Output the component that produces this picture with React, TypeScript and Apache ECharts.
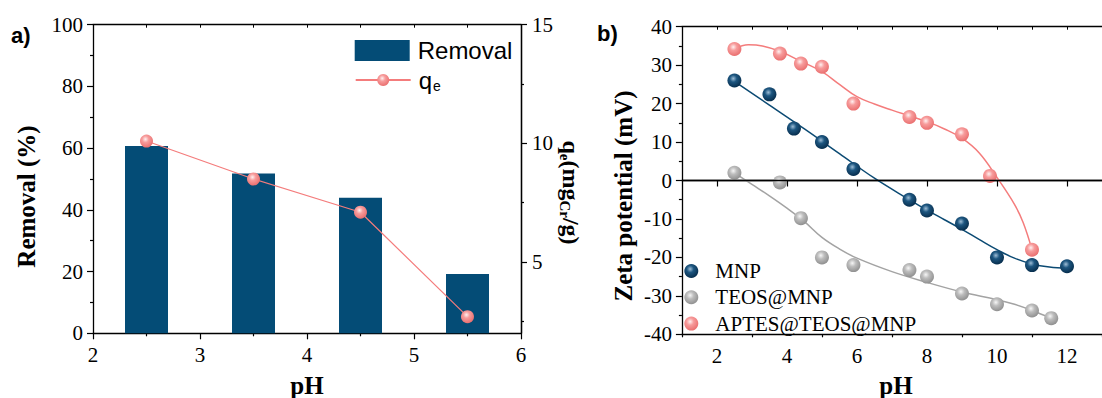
import React, { useEffect, useRef } from "react";
import * as echarts from "echarts";

// ---- Panel a) data ----
const barPH = [2.5, 3.5, 4.5, 5.5];
const removalPct = [60.7, 51.8, 43.9, 19.2];
const qeValues = [10.1, 8.5, 7.1, 2.7];

// ---- Panel b) data (pH, zeta potential) ----
const mnpPH = [2.5, 3.5, 4.2, 5, 5.9, 7.5, 8, 9, 10, 11, 12];
const mnpZeta = [26, 22.4, 13.5, 10, 3, -5, -7.8, -11.2, -20, -22, -22.3];
const teosPH = [2.5, 3.8, 4.4, 5, 5.9, 7.5, 8, 9, 10, 11, 11.55];
const teosZeta = [2, -0.5, -9.8, -20, -22, -23.3, -25, -29.4, -32.2, -33.8, -35.8];
const aptesPH = [2.5, 3.8, 4.4, 5, 5.9, 7.5, 8, 9, 9.8, 11];
const aptesZeta = [34.2, 33, 30.4, 29.6, 20, 16.5, 15, 12, 1.2, -18];

// fitted curves
const mnpFitPH = [2.5, 3.5, 4.5, 5.5, 6.5, 7.5, 8, 8.5, 9, 9.5, 10, 10.5, 11, 11.5, 12];
const mnpFitZeta = [25.8, 19.6, 13.4, 7.0, 0.6, -5.0, -7.7, -10.2, -12.7, -15.4, -18.0, -20.2, -21.7, -22.5, -22.8];
const teosFitPH = [2.5, 3, 3.5, 4, 4.5, 5, 5.5, 6, 7, 8, 9, 10, 10.5, 11, 11.55];
const teosFitZeta = [2, -1, -4, -7.2, -10.7, -14.8, -17.8, -20.2, -23.7, -26.5, -29, -31, -32.2, -33.8, -35.8];
const aptesFitPH = [2.5, 2.9, 3.3, 3.8, 4.4, 5, 5.5, 6, 6.5, 7, 7.5, 8, 8.5, 9, 9.5, 10, 10.5, 10.75, 11];
const aptesFitZeta = [34.2, 35.3, 35.0, 33.6, 31.0, 28.3, 25.0, 21.8, 19.9, 18.3, 16.8, 15.3, 13.4, 11, 7.1, 0.8, -6.2, -11, -18];

const qeLabelTicks = [5, 10, 15];
const qeMinorTicks = [2.5, 7.5, 12.5];
const rightXLabels = [2, 4, 6, 8, 10, 12];
const rightXMinor = [1, 3, 5, 7, 9, 11, 13];

const pairs = (xs: number[], ys: number[]) => xs.map((x, i) => [x, ys[i]]);

const SERIF = "'Liberation Serif', 'Times New Roman', serif";
const SANS = "'Liberation Sans', Arial, sans-serif";

const sphere = (light: string, mid: string, dark: string) => ({
  type: "radial",
  x: 0.42,
  y: 0.36,
  r: 0.66,
  colorStops: [
    { offset: 0, color: light },
    { offset: 0.38, color: mid },
    { offset: 1, color: dark },
  ],
});

const BLUE_BAR = "#044c76";
const PINK_LINE = "#f47c7c";
const BLUE_LINE = "#0b4a73";
const GRAY_LINE = "#a3a3a3";
const pinkSphere = sphere("#fff1f1", "#f79c9c", "#e96d6d");
const blueSphere = sphere("#9dbdd6", "#1d5680", "#062c4b");
const graySphere = sphere("#f6f6f6", "#bdbdbd", "#8e8e8e");

const axisLine = { show: true, lineStyle: { color: "#000", width: 1.3 } };
const tickLabel = { fontFamily: SERIF, fontSize: 21, color: "#000" };

export default function App() {
  const ref = useRef<HTMLDivElement>(null);

  useEffect(() => {
    if (!ref.current) return;
    const chart = echarts.init(ref.current, undefined, { renderer: "svg" });

    const grid0 = { left: 93, top: 24.7, width: 428, height: 308.6 };
    const grid1 = { left: 681.9, top: 26.7, width: 428.9, height: 307.6 };

    const option: any = {
      animation: false,
      backgroundColor: "#fff",
      textStyle: { fontFamily: SERIF },
      grid: [
        { ...grid0, containLabel: false },
        { ...grid1, containLabel: false },
      ],
      xAxis: [
        {
          gridIndex: 0,
          type: "value",
          min: 2,
          max: 6,
          interval: 1,
          position: "bottom",
          axisLine,
          axisTick: { show: true, length: 6, lineStyle: { color: "#000", width: 1.2 } },
          minorTick: { show: true, splitNumber: 2, length: 3, lineStyle: { color: "#000", width: 1.2 } },
          axisLabel: { ...tickLabel, margin: 11 },
          splitLine: { show: false },
        },
        {
          gridIndex: 0,
          type: "value",
          min: 2,
          max: 6,
          interval: 1,
          position: "top",
          axisLine,
          axisTick: { show: true, inside: true, length: 3, lineStyle: { color: "#000" } },
          minorTick: { show: true, splitNumber: 2, length: 3, lineStyle: { color: "#000" } },
          axisLabel: { show: false },
          splitLine: { show: false },
        },
        {
          gridIndex: 1,
          type: "value",
          min: 1,
          max: 13,
          position: "bottom",
          axisLine,
          axisTick: { show: true, length: 6, customValues: rightXLabels, lineStyle: { color: "#000", width: 1.2 } },
          axisLabel: { ...tickLabel, margin: 11, customValues: rightXLabels },
          splitLine: { show: false },
        },
        {
          gridIndex: 1,
          type: "value",
          min: 1,
          max: 13,
          position: "bottom",
          axisLine,
          axisTick: { show: true, length: 3, customValues: rightXMinor, lineStyle: { color: "#000", width: 1.2 } },
          axisLabel: { show: false },
          splitLine: { show: false },
        },
        {
          gridIndex: 1,
          type: "value",
          min: 1,
          max: 13,
          interval: 1,
          position: "top",
          axisLine,
          axisTick: { show: true, inside: true, length: 3, lineStyle: { color: "#000" } },
          axisLabel: { show: false },
          splitLine: { show: false },
        },
      ],
      yAxis: [
        {
          gridIndex: 0,
          type: "value",
          min: 0,
          max: 100,
          interval: 20,
          position: "left",
          axisLine,
          axisTick: { show: true, length: 6, lineStyle: { color: "#000", width: 1.2 } },
          minorTick: { show: true, splitNumber: 2, length: 3, lineStyle: { color: "#000", width: 1.2 } },
          axisLabel: { ...tickLabel, margin: 10 },
          splitLine: { show: false },
        },
        {
          gridIndex: 0,
          type: "value",
          min: 2,
          max: 15,
          position: "right",
          axisLine,
          axisTick: { show: true, length: 6, customValues: qeLabelTicks, lineStyle: { color: "#000", width: 1.2 } },
          axisLabel: { ...tickLabel, margin: 11, customValues: qeLabelTicks },
          splitLine: { show: false },
        },
        {
          gridIndex: 0,
          type: "value",
          min: 2,
          max: 15,
          position: "right",
          axisLine,
          axisTick: { show: true, length: 3, customValues: qeMinorTicks, lineStyle: { color: "#000", width: 1.2 } },
          axisLabel: { show: false },
          splitLine: { show: false },
        },
        {
          gridIndex: 1,
          type: "value",
          min: -40,
          max: 40,
          interval: 10,
          position: "left",
          axisLine,
          axisTick: { show: true, length: 6, lineStyle: { color: "#000", width: 1.2 } },
          minorTick: { show: true, splitNumber: 2, length: 3, lineStyle: { color: "#000", width: 1.2 } },
          axisLabel: { ...tickLabel, margin: 10 },
          splitLine: { show: false },
        },
      ],
      legend: [
        {
          data: [{ name: "Removal", icon: "rect" }],
          left: 349.7,
          top: 33.5,
          itemWidth: 55,
          itemHeight: 21,
          itemGap: 8,
          selectedMode: false,
          textStyle: { fontFamily: SANS, fontSize: 24, color: "#000", padding: [0, 0, 0, 3] },
        },
        {
          data: ["qe"],
          left: 349.7,
          top: 63,
          itemWidth: 55,
          itemHeight: 15,
          selectedMode: false,
          formatter: () => "{q|q}{e|e}",
          textStyle: {
            color: "#000",
            padding: [0, 0, 0, 3],
            rich: {
              q: { fontFamily: SANS, fontSize: 24, lineHeight: 26, color: "#000" },
              e: {
                fontFamily: SANS,
                fontSize: 14,
                lineHeight: 14,
                padding: [11, 0, 0, 1],
                verticalAlign: "bottom",
                color: "#000",
              },
            },
          },
        },
        {
          data: ["MNP", "TEOS@MNP", "APTES@TEOS@MNP"],
          orient: "vertical",
          left: 679.3,
          top: 255.5,
          itemWidth: 38,
          itemHeight: 14,
          itemGap: 5.3,
          selectedMode: false,
          textStyle: { fontFamily: SERIF, fontSize: 21, color: "#000" },
        },
      ],
      series: [
        {
          name: "Removal",
          type: "bar",
          xAxisIndex: 0,
          yAxisIndex: 0,
          barWidth: 43,
          itemStyle: { color: BLUE_BAR },
          data: pairs(barPH, removalPct),
          z: 2,
        },
        {
          name: "qe",
          type: "line",
          xAxisIndex: 0,
          yAxisIndex: 1,
          symbol: "circle",
          symbolSize: 13,
          lineStyle: { color: PINK_LINE, width: 1.2 },
          itemStyle: { color: pinkSphere, borderWidth: 0 },
          data: pairs(barPH, qeValues),
          z: 3,
        },
        {
          name: "MNP fit",
          type: "line",
          xAxisIndex: 2,
          yAxisIndex: 3,
          smooth: 0.4,
          symbol: "none",
          lineStyle: { color: BLUE_LINE, width: 1.5 },
          data: pairs(mnpFitPH, mnpFitZeta),
          markLine: {
            silent: true,
            symbol: ["none", "none"],
            label: { show: false },
            lineStyle: { color: "#000", width: 1.3, type: "solid" },
            data: [{ yAxis: 0 }],
          },
          z: 2,
        },
        {
          name: "TEOS fit",
          type: "line",
          xAxisIndex: 2,
          yAxisIndex: 3,
          smooth: 0.4,
          symbol: "none",
          lineStyle: { color: GRAY_LINE, width: 1.5 },
          data: pairs(teosFitPH, teosFitZeta),
          z: 2,
        },
        {
          name: "APTES fit",
          type: "line",
          xAxisIndex: 2,
          yAxisIndex: 3,
          smooth: 0.4,
          symbol: "none",
          lineStyle: { color: PINK_LINE, width: 1.5 },
          data: pairs(aptesFitPH, aptesFitZeta),
          z: 2,
        },
        {
          name: "MNP",
          type: "scatter",
          xAxisIndex: 2,
          yAxisIndex: 3,
          symbolSize: 14,
          itemStyle: { color: blueSphere, opacity: 1 },
          data: pairs(mnpPH, mnpZeta),
          z: 4,
        },
        {
          name: "TEOS@MNP",
          type: "scatter",
          xAxisIndex: 2,
          yAxisIndex: 3,
          symbolSize: 14,
          itemStyle: { color: graySphere, opacity: 1 },
          data: pairs(teosPH, teosZeta),
          z: 4,
        },
        {
          name: "APTES@TEOS@MNP",
          type: "scatter",
          xAxisIndex: 2,
          yAxisIndex: 3,
          symbolSize: 14,
          itemStyle: { color: pinkSphere, opacity: 1 },
          data: pairs(aptesPH, aptesZeta),
          z: 4,
        },
      ],
      graphic: [
        {
          type: "text",
          left: 11,
          top: 24,
          style: { text: "a)", fontFamily: SANS, fontWeight: "bold", fontSize: 22, fill: "#000" },
        },
        {
          type: "text",
          left: 597,
          top: 22,
          style: { text: "b)", fontFamily: SANS, fontWeight: "bold", fontSize: 22, fill: "#000" },
        },
        {
          type: "text",
          x: 26,
          y: 196.5,
          rotation: Math.PI / 2,
          style: {
            text: "Removal (%)",
            fontFamily: SERIF,
            fontWeight: "bold",
            fontSize: 25,
            fill: "#000",
            align: "center",
            verticalAlign: "middle",
          },
        },
        {
          type: "text",
          x: 307,
          y: 385,
          style: {
            text: "pH",
            fontFamily: SERIF,
            fontWeight: "bold",
            fontSize: 25,
            fill: "#000",
            align: "center",
            verticalAlign: "middle",
          },
        },
        {
          type: "text",
          x: 571,
          y: 192.5,
          rotation: -Math.PI / 2,
          style: {
            text: "{m|q}{s|e}{m|(mg}{s|Cr}{m|/g)}",
            align: "center",
            verticalAlign: "middle",
            rich: {
              m: { fontFamily: SERIF, fontWeight: "bold", fontSize: 24, lineHeight: 28, fill: "#000" },
              s: { fontFamily: SERIF, fontWeight: "bold", fontSize: 15, lineHeight: 15, verticalAlign: "bottom", fill: "#000" },
            },
          },
        },
        {
          type: "text",
          x: 623,
          y: 196,
          rotation: Math.PI / 2,
          style: {
            text: "Zeta potential (mV)",
            fontFamily: SERIF,
            fontWeight: "bold",
            fontSize: 25,
            fill: "#000",
            align: "center",
            verticalAlign: "middle",
          },
        },
        {
          type: "text",
          x: 896,
          y: 385,
          style: {
            text: "pH",
            fontFamily: SERIF,
            fontWeight: "bold",
            fontSize: 25,
            fill: "#000",
            align: "center",
            verticalAlign: "middle",
          },
        },
      ],
    };

    chart.setOption(option);
    return () => chart.dispose();
  }, []);

  return (
    <div
      ref={ref}
      style={{ position: "absolute", left: 0, top: 0, width: 1102, height: 398, background: "#fff" }}
    />
  );
}
